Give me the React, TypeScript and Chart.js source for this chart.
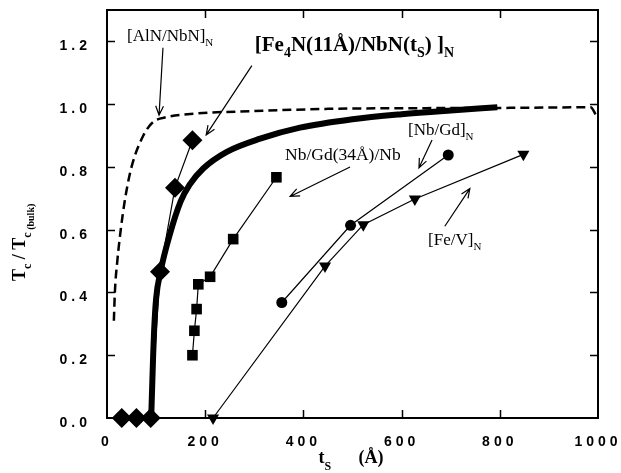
import React, { useEffect, useRef } from 'react';
import { Chart, registerables } from 'chart.js';
Chart.register(...registerables);

// ---- axis ticks ----
const xTickValues = [0, 200, 400, 600, 800, 1000];
const xTickLabels = ['0', '200', '400', '600', '800', '1000'];
const yTickValues = [0, 0.2, 0.4, 0.6, 0.8, 1.0, 1.2];
const yTickLabels = ['0.0', '0.2', '0.4', '0.6', '0.8', '1.0', '1.2'];

// ---- [Fe4N(11Å)/NbN(ts)]N fit curve (thick) ----
const fitT = [90, 92, 94, 96, 100, 109, 128, 150, 168, 196, 244, 312, 393, 500, 600, 700, 795];
const fitR = [0, 0.1, 0.2, 0.28, 0.38, 0.466, 0.585, 0.69, 0.743, 0.795, 0.848, 0.89, 0.925, 0.952, 0.968, 0.98, 0.99];

// ---- [AlN/NbN]N (dashed) ----
const alnT = [14, 16, 21, 28, 37, 50, 74, 94, 122, 180, 300, 450, 600, 800, 985, 996];
const alnR = [0.31, 0.4, 0.5, 0.6, 0.7, 0.8, 0.9, 0.943, 0.959, 0.97, 0.978, 0.985, 0.987, 0.988, 0.99, 0.965];

// ---- [Fe4N/NbN]N data (diamonds) ----
const diamondT = [30, 60, 89, 108, 138.5, 174];
const diamondR = [0, 0, 0, 0.466, 0.734, 0.885];

// ---- Nb/Gd(34Å)/Nb (squares) ----
const squareT = [174, 178, 182.5, 186, 210, 257, 345];
const squareR = [0.2, 0.278, 0.347, 0.426, 0.45, 0.57, 0.767];

// ---- [Nb/Gd]N (circles) ----
const circleT = [356, 496, 695];
const circleR = [0.368, 0.614, 0.838];

// ---- [Fe/V]N (down triangles) ----
const triT = [216, 444, 522, 627, 848];
const triR = [0, 0.484, 0.616, 0.698, 0.84];

const pts = (xs: number[], ys: number[]) => xs.map((x, i) => ({ x, y: ys[i] }));

type Seg = { t: string; sub?: boolean };
const annotations: { segs: Seg[]; size: number; bold: boolean; x: number; y: number; from: [number, number]; to: [number, number] }[] = [
  { segs: [{ t: '[AlN/NbN]' }, { t: 'N', sub: true }], size: 17, bold: false, x: 40.7, y: 1.2, from: [114, 1.18], to: [106, 0.965] },
  {
    segs: [{ t: '[Fe' }, { t: '4', sub: true }, { t: 'N(11Å)/NbN(t' }, { t: 'S', sub: true }, { t: ') ]' }, { t: 'N', sub: true }],
    size: 21, bold: true, x: 301, y: 1.168, from: [295, 1.123], to: [202, 0.902],
  },
  { segs: [{ t: 'Nb/Gd(34Å)/Nb' }], size: 17.5, bold: false, x: 362.5, y: 0.823, from: [495, 0.8], to: [373, 0.706] },
  { segs: [{ t: '[Nb/Gd]' }, { t: 'N', sub: true }], size: 17, bold: false, x: 613, y: 0.902, from: [662, 0.886], to: [635.4, 0.797] },
  { segs: [{ t: '[Fe/V]' }, { t: 'N', sub: true }], size: 17, bold: false, x: 654, y: 0.551, from: [688, 0.611], to: [739, 0.731] },
];

const serif = (size: number, bold: boolean) =>
  `${bold ? 'bold ' : ''}${size}px "Liberation Serif", "Times New Roman", serif`;

function drawRich(ctx: CanvasRenderingContext2D, segs: Seg[], x: number, y: number, size: number, bold: boolean) {
  let cx = x;
  for (const s of segs) {
    const fs = s.sub ? Math.round(size * 0.65) : size;
    ctx.font = serif(fs, bold);
    ctx.fillText(s.t, cx, y + (s.sub ? size * 0.28 : 0));
    cx += ctx.measureText(s.t).width;
  }
}

function arrow(ctx: CanvasRenderingContext2D, x0: number, y0: number, x1: number, y1: number) {
  ctx.beginPath();
  ctx.moveTo(x0, y0);
  ctx.lineTo(x1, y1);
  const a = Math.atan2(y1 - y0, x1 - x0);
  const L = 10;
  const w = 0.4;
  ctx.moveTo(x1 - L * Math.cos(a - w), y1 - L * Math.sin(a - w));
  ctx.lineTo(x1, y1);
  ctx.lineTo(x1 - L * Math.cos(a + w), y1 - L * Math.sin(a + w));
  ctx.stroke();
}

const framePlugin = {
  id: 'frame',
  beforeDraw(chart: any) {
    (chart.ctx as any).letterSpacing = '4px';
  },
  beforeDatasetsDraw(chart: any) {
    const ctx = chart.ctx as CanvasRenderingContext2D;
    const { left, right, top, bottom } = chart.chartArea;
    const xs = chart.scales.x;
    const ys = chart.scales.y;
    ctx.save();
    ctx.strokeStyle = '#000';
    ctx.lineWidth = 2;
    ctx.strokeRect(left, top, right - left, bottom - top);
    ctx.beginPath();
    const tl = 8;
    xTickValues.forEach((v) => {
      if (v <= xs.min || v >= xs.max) return;
      const p = Math.round(xs.getPixelForValue(v)) + 0.5;
      ctx.moveTo(p, bottom);
      ctx.lineTo(p, bottom - tl);
      ctx.moveTo(p, top);
      ctx.lineTo(p, top + tl);
    });
    yTickValues.forEach((v) => {
      if (v <= ys.min || v >= ys.max) return;
      const p = Math.round(ys.getPixelForValue(v)) + 0.5;
      ctx.moveTo(left, p);
      ctx.lineTo(left + tl, p);
      ctx.moveTo(right, p);
      ctx.lineTo(right - tl, p);
    });
    ctx.lineWidth = 1.5;
    ctx.stroke();
    ctx.restore();
  },
  afterDraw(chart: any) {
    const ctx = chart.ctx as CanvasRenderingContext2D;
    const xs = chart.scales.x;
    const ys = chart.scales.y;
    ctx.save();
    (ctx as any).letterSpacing = '0px';
    ctx.fillStyle = '#000';
    ctx.strokeStyle = '#000';
    ctx.lineWidth = 1.2;
    ctx.textAlign = 'left';
    ctx.textBaseline = 'alphabetic';
    for (const a of annotations) {
      drawRich(ctx, a.segs, xs.getPixelForValue(a.x), ys.getPixelForValue(a.y), a.size, a.bold);
      arrow(ctx, xs.getPixelForValue(a.from[0]), ys.getPixelForValue(a.from[1]), xs.getPixelForValue(a.to[0]), ys.getPixelForValue(a.to[1]));
    }
    // x-axis title: t_S (Å)
    const { left, right } = chart.chartArea;
    const cxm = (left + right) / 2;
    ctx.font = serif(18, true);
    ctx.fillText('t', cxm - 34, 463);
    ctx.font = serif(12, true);
    ctx.fillText('S', cxm - 28, 470);
    ctx.font = serif(18, true);
    ctx.fillText('(Å)', cxm + 6, 463);
    // y-axis title: T_c / T_c (bulk)
    ctx.save();
    ctx.translate(25, 281);
    ctx.rotate(-Math.PI / 2);
    const parts: { t: string; size: number; dy: number }[] = [
      { t: 'T', size: 18, dy: 0 },
      { t: 'c', size: 12, dy: 6 },
      { t: ' / ', size: 18, dy: 0 },
      { t: 'T', size: 18, dy: 0 },
      { t: 'c', size: 12, dy: 6 },
      { t: ' (bulk)', size: 10, dy: 9 },
    ];
    let cx = 0;
    for (const p of parts) {
      ctx.font = serif(p.size, true);
      ctx.fillText(p.t, cx, p.dy);
      cx += ctx.measureText(p.t).width;
    }
    ctx.restore();
    ctx.restore();
  },
};

export default function App() {
  const ref = useRef<HTMLCanvasElement>(null);
  useEffect(() => {
    const canvas = ref.current!;
    const tickFont = { family: '"Liberation Sans", Arial, sans-serif', size: 14, weight: 'bold' as const };
    const chart = new Chart(canvas, {
      type: 'scatter',
      data: {
        datasets: [
          {
            data: pts(alnT, alnR),
            showLine: true,
            borderColor: '#000',
            borderWidth: 2.5,
            borderDash: [9, 5],
            pointRadius: 0,
            cubicInterpolationMode: 'monotone',
          },
          {
            data: pts(fitT, fitR),
            showLine: true,
            borderColor: '#000',
            borderWidth: 6,
            pointRadius: 0,
            cubicInterpolationMode: 'monotone',
          },
          {
            data: pts(squareT, squareR),
            showLine: true,
            borderColor: '#000',
            borderWidth: 1.2,
            pointStyle: 'rect',
            pointRadius: 7.5,
            backgroundColor: '#000',
            pointBorderWidth: 0,
          },
          {
            data: pts(circleT, circleR),
            showLine: true,
            borderColor: '#000',
            borderWidth: 1.2,
            pointStyle: 'circle',
            pointRadius: 5.5,
            backgroundColor: '#000',
            pointBorderWidth: 0,
          },
          {
            data: pts(triT, triR),
            showLine: true,
            borderColor: '#000',
            borderWidth: 1.2,
            pointStyle: 'triangle',
            rotation: 180,
            pointRadius: 7,
            backgroundColor: '#000',
            pointBorderWidth: 0,
            clip: false,
          },
          {
            data: pts(diamondT, diamondR),
            showLine: true,
            borderColor: '#000',
            borderWidth: 1.2,
            pointStyle: 'rectRot',
            pointRadius: 10,
            backgroundColor: '#000',
            pointBorderWidth: 0,
            clip: false,
            segment: {
              borderColor: (c: any) => (c.p0.parsed.y === 0 && c.p1.parsed.y === 0 ? 'rgba(0,0,0,0)' : '#000'),
            },
          },
        ] as any,
      },
      options: {
        animation: false,
        responsive: false,
        devicePixelRatio: 1,
        layout: { padding: { left: 0, top: 7, right: 23, bottom: 0 } },
        plugins: { legend: { display: false }, tooltip: { enabled: false } },
        scales: {
          x: {
            type: 'linear',
            min: 0,
            max: 1000,
            grid: { display: false, drawTicks: false },
            border: { display: false },
            afterBuildTicks: (s: any) => {
              s.ticks = xTickValues.map((v) => ({ value: v }));
            },
            afterFit: (s: any) => {
              s.height = 55;
              s.paddingLeft = 0;
              s.paddingRight = 0;
              s.paddingTop = 0;
              s.paddingBottom = 0;
            },
            ticks: {
              color: '#000',
              font: tickFont,
              padding: 16,
              maxRotation: 0,
              autoSkip: false,
              callback: (v: any) => {
                const i = xTickValues.indexOf(Number(v));
                return i >= 0 ? xTickLabels[i] : '';
              },
            },
          },
          y: {
            type: 'linear',
            min: 0,
            max: 1.3,
            grid: { display: false, drawTicks: false },
            border: { display: false },
            afterBuildTicks: (s: any) => {
              s.ticks = yTickValues.map((v) => ({ value: v }));
            },
            afterFit: (s: any) => {
              s.width = 107;
              s.paddingLeft = 0;
              s.paddingRight = 0;
              s.paddingTop = 0;
              s.paddingBottom = 0;
            },
            ticks: {
              color: '#000',
              font: tickFont,
              padding: 16,
              labelOffset: 5,
              autoSkip: false,
              callback: (v: any) => {
                const i = yTickValues.findIndex((t) => Math.abs(t - Number(v)) < 1e-9);
                return i >= 0 ? yTickLabels[i] : '';
              },
            },
          },
        },
      } as any,
      plugins: [framePlugin],
    });
    return () => chart.destroy();
  }, []);
  return (
    <div style={{ position: 'absolute', left: 0, top: 0, width: 621, height: 473, background: '#fff' }}>
      <canvas ref={ref} width={621} height={473} style={{ width: 621, height: 473, display: 'block' }} />
    </div>
  );
}
